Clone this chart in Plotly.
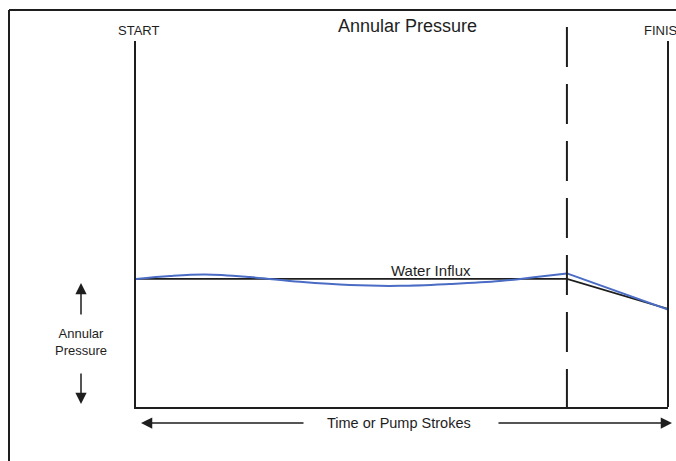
import plotly.graph_objects as go

# time / pump strokes (0 = start, 100 = finish) and annular pressure (arbitrary units)
kick_x = 81.0
black_x = [0, 81.0, 100]
black_y = [35.0, 35.0, 26.8]

blue_x = [0, 6.4, 13.0, 21.4, 30.8, 40.2, 49.6, 59.0, 68.4, 75.2, 81.0]
blue_y = [35.0, 35.8, 36.2, 35.5, 34.2, 33.3, 33.1, 33.6, 34.4, 35.5, 36.5]
blue_tail_x = [81.0, 100]
blue_tail_y = [36.5, 26.6]

W, H = 676, 461
L, R, T, B = 136, 8, 41, 54
FONT = "Liberation Sans, Arial, sans-serif"
INK = "#1e1e1e"
BLUE = "#4a6cc4"


def px(x):
    return (x - L) / (W - L - R)


def py(y):
    return (H - B - y) / (H - T - B)


def label(text, x, y, size, xanchor="center"):
    return dict(text=text, x=px(x), y=py(y), xref="paper", yref="paper",
                xanchor=xanchor, yanchor="middle", showarrow=False,
                font=dict(size=size, color=INK, family=FONT))


def arrow(x, y, ax, ay):
    return dict(text="", x=px(x), y=py(y), xref="paper", yref="paper", ax=ax, ay=ay,
                showarrow=True, arrowhead=2, arrowsize=1.5, arrowwidth=1.5, arrowcolor=INK)


fig = go.Figure()
fig.add_trace(go.Scatter(x=black_x, y=black_y, mode="lines",
                         line=dict(color=INK, width=1.6), hoverinfo="skip"))
fig.add_trace(go.Scatter(x=blue_x, y=blue_y, mode="lines",
                         line=dict(color=BLUE, width=2, shape="spline", smoothing=1.0),
                         hoverinfo="skip"))
fig.add_trace(go.Scatter(x=blue_tail_x, y=blue_tail_y, mode="lines",
                         line=dict(color=BLUE, width=2), hoverinfo="skip"))

shapes = [
    # outer border (top and left)
    dict(type="line", xref="paper", yref="paper", x0=px(9), x1=px(W + 5), y0=py(10), y1=py(10),
         line=dict(color=INK, width=2)),
    dict(type="line", xref="paper", yref="paper", x0=px(9), x1=px(9), y0=py(10), y1=py(H + 5),
         line=dict(color=INK, width=2)),
    # right frame line (finish)
    dict(type="line", xref="paper", yref="paper", x0=1, x1=1, y0=0, y1=1,
         line=dict(color=INK, width=2)),
    # dashed kick marker
    dict(type="line", xref="x", yref="paper", x0=kick_x, x1=kick_x, y0=py(27), y1=0,
         line=dict(color=INK, width=2, dash="40px,17px")),
]

annotations = [
    label("Annular Pressure", 407, 26, 18),
    label("START", 138, 31, 13),
    label("FINISH", 642, 31, 13, xanchor="left"),
    label("Water Influx", 431, 270, 15),
    label("Annular<br>Pressure", 81, 342, 13),
    label("Time or Pump Strokes", 399, 423, 14.5),
    arrow(81, 283, 0, 33),
    arrow(81, 404, 0, -32),
    arrow(141, 423, 164, 0),
    arrow(672, 423, -175, 0),
]

fig.update_layout(
    width=W, height=H,
    margin=dict(l=L, r=R, t=T, b=B),
    paper_bgcolor="white", plot_bgcolor="white",
    showlegend=False,
    xaxis=dict(range=[0, 100], showgrid=False, zeroline=False, showticklabels=False,
               ticks="", showline=True, linecolor=INK, linewidth=2, fixedrange=True),
    yaxis=dict(range=[0, 100], showgrid=False, zeroline=False, showticklabels=False,
               ticks="", showline=True, linecolor=INK, linewidth=2, fixedrange=True),
    shapes=shapes,
    annotations=annotations,
)

fig.write_html("out.html", config={"displayModeBar": False},
               post_script="document.body.style.margin='0';")
